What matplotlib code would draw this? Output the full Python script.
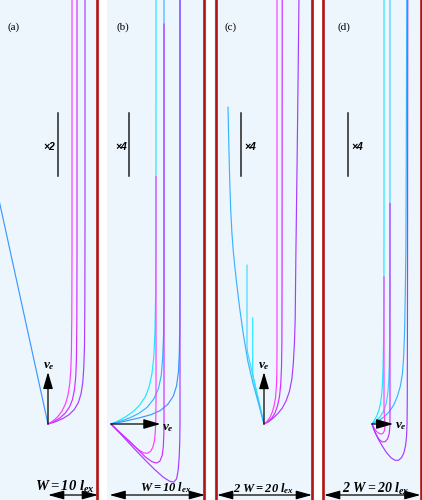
import matplotlib
matplotlib.use('Agg')
import matplotlib.pyplot as plt

plt.rcParams['mathtext.fontset'] = 'custom'
plt.rcParams['mathtext.rm'] = 'Liberation Serif:bold:italic'
plt.rcParams['mathtext.it'] = 'Liberation Serif:bold:italic'
plt.rcParams['mathtext.bf'] = 'Liberation Serif:bold:italic'

cyan = '#22e6ff'
sky = '#38b4ff'
blue = '#3b98ff'
magenta = '#ff3cff'
orchid = '#d22cff'
purple = '#a63cff'
wall_red = '#b01414'
bg = '#eef6fd'

# trajectories in units of l_ex, start point at the origin, y upwards
# (a) W = 10 l_ex
a_blue_x = [0, -10.5]
a_blue_y = [0, 48]
a_mag_x = [0, 1.0, 2.0, 2.9, 3.6, 4.1, 4.45, 4.65, 4.78, 4.86, 4.9, 4.9]
a_mag_y = [0, 0.6, 1.5, 2.7, 4.2, 6.0, 8.3, 11, 15, 22, 35, 90]
a_orc_x = [0, 1.2, 2.4, 3.5, 4.4, 5.0, 5.4, 5.65, 5.8, 5.88, 5.92, 5.92]
a_orc_y = [0, 0.5, 1.2, 2.2, 3.5, 5.0, 7.0, 9.5, 13, 20, 35, 90]
a_pur_x = [0, 1.5, 3.0, 4.3, 5.4, 6.2, 6.75, 7.1, 7.3, 7.45, 7.52, 7.55, 7.55]
a_pur_y = [0, 0.45, 1.1, 1.9, 3.0, 4.4, 6.2, 8.5, 11.5, 16, 25, 40, 90]

# (b) W = 10 l_ex, zoom x4
b_cyan_x = [0, 0.8, 1.6, 2.4, 3.1, 3.7, 4.1, 4.4, 4.6, 4.72, 4.8, 4.83, 4.84]
b_cyan_y = [0, 0.35, 0.8, 1.35, 2.05, 2.95, 4.0, 5.4, 7.2, 9.8, 14, 20, 46]
b_sky_x = [0, 1.0, 2.0, 3.0, 3.9, 4.6, 5.1, 5.4, 5.55, 5.65, 5.7, 5.7]
b_sky_y = [0, 0.3, 0.65, 1.15, 1.8, 2.7, 3.8, 5.2, 7.0, 9.5, 14, 46]
b_blue_x = [0, 1.5, 3.0, 4.3, 5.3, 6.1, 6.7, 7.05, 7.25, 7.35, 7.4, 7.42, 7.42]
b_blue_y = [0, 0.3, 0.65, 1.0, 1.45, 2.1, 3.0, 4.1, 5.6, 7.8, 11, 16, 46]
b_mag_x = [0, 0.8, 1.6, 2.4, 3.0, 3.5, 3.9, 4.25, 4.5, 4.67, 4.76, 4.82, 4.84, 4.84]
b_mag_y = [0, -0.8, -1.55, -2.3, -2.8, -3.1, -3.15, -2.95, -2.5, -1.8, -0.9, 0.5, 3, 26.6]
b_orc_x = [0, 1.0, 2.0, 2.9, 3.7, 4.4, 4.9, 5.25, 5.5, 5.62, 5.68, 5.7, 5.7]
b_orc_y = [0, -0.95, -1.85, -2.75, -3.55, -4.05, -4.2, -4.0, -3.4, -2.5, -1.2, 0.5, 43]
b_pur_x = [0, 1.2, 2.4, 3.6, 4.7, 5.6, 6.3, 6.75, 7.05, 7.22, 7.33, 7.39, 7.42, 7.42]
b_pur_y = [0, -1.25, -2.55, -3.8, -4.9, -5.7, -6.15, -6.25, -5.9, -5.0, -3.6, -2, 0, 46]

# (c) 2W = 20 l_ex
c_blue_x = [0, -1.15, -2.3, -3.35, -4.35, -5.05, -5.6, -6.05, -6.4, -6.7, -6.95, -7.15, -7.3, -7.5]
c_blue_y = [0, 4.3, 8.5, 13.0, 19, 24, 28.5, 32.5, 36, 40, 45, 51, 57, 66]
c_cyan1_x = [0, -3.4, -3.54, -3.54]
c_cyan1_y = [0, 14.8, 16.0, 33.1]
c_cyan2_x = [0, -2.3, -2.35, -2.35]
c_cyan2_y = [0, 10.0, 11.0, 22.1]
c_mag_x = [0, 0.6, 1.2, 1.7, 2.1, 2.4, 2.58, 2.67, 2.71, 2.71]
c_mag_y = [0, 0.5, 1.3, 2.4, 3.8, 5.5, 7.8, 10.5, 15, 90]
c_orc_x = [0, 0.8, 1.6, 2.3, 2.85, 3.25, 3.5, 3.65, 3.73, 3.76, 3.8]
c_orc_y = [0, 0.5, 1.2, 2.3, 3.9, 5.9, 8.5, 12, 17, 30, 90]
c_pur_x = [0, 1.0, 2.0, 2.9, 3.8, 4.6, 5.3, 5.8, 6.1, 6.35, 6.5, 6.65, 6.9, 7.1, 7.3]
c_pur_y = [0, 0.5, 1.3, 2.2, 3.3, 4.8, 6.8, 9.3, 12.5, 17, 22, 36, 55, 72, 90]

# (d) 2W = 20 l_ex, zoom x4
d_cyan_x = [0, 0.5, 1.0, 1.4, 1.75, 2.0, 2.15, 2.25, 2.35, 2.42, 2.45, 2.45]
d_cyan_y = [0, 0.8, 1.7, 2.8, 4.3, 6.2, 8.5, 11.5, 16, 25, 40, 90]
d_sky_x = [0, 0.8, 1.6, 2.3, 2.85, 3.2, 3.4, 3.52, 3.6, 3.65, 3.67, 3.67]
d_sky_y = [0, 0.6, 1.4, 2.5, 4.0, 6.0, 8.5, 11.5, 16, 25, 40, 90]
d_blue_x = [0, 1.2, 2.4, 3.5, 4.4, 5.2, 5.8, 6.2, 6.45, 6.65, 6.8, 6.92, 7.0, 7.1]
d_blue_y = [0, 0.6, 1.4, 2.5, 3.8, 5.7, 7.8, 10.2, 13.5, 19, 27, 36, 55, 90]
d_mag_x = [0, 0.4, 0.9, 1.4, 1.9, 2.3, 2.55, 2.65, 2.6, 2.5, 2.45, 2.45]
d_mag_y = [0, -0.8, -1.5, -1.9, -2.05, -1.85, -1.3, -0.5, 0.6, 2.0, 4, 30]
d_orc_x = [0, 0.4, 0.9, 1.5, 2.1, 2.7, 3.2, 3.5, 3.64, 3.67, 3.67]
d_orc_y = [0, -1.2, -2.3, -3.2, -3.65, -3.6, -3.0, -2.0, -0.7, 1, 45]
d_pur_x = [0, 0.6, 1.3, 2.1, 3.0, 3.9, 4.7, 5.4, 6.0, 6.5, 6.85, 7.05, 7.15, 7.2, 7.25, 7.3]
d_pur_y = [0, -1.6, -3.1, -4.5, -5.9, -6.9, -7.4, -7.4, -6.9, -5.9, -4.4, -2.5, 0, 5, 30, 90]

# panel geometry: pixel scale, start point (px), axes extent (px), walls, ve arrow
panels = {
    'a': dict(s=4.9, x0=48, left=0, right=99.5, walls=[10], ve=(0, 10.6)),
    'b': dict(s=9.3, x0=111, left=107, right=206.5, walls=[10], ve=(5.3, 0)),
    'c': dict(s=4.8, x0=264, left=214.5, right=313.5, walls=[-10, 10], ve=(0, 10.8)),
    'd': dict(s=4.9, x0=372, left=321.5, right=422, walls=[-10, 10], ve=(4.3, 0)),
}
y0 = 424

curves = {
    'a': [(a_blue_x, a_blue_y, blue), (a_pur_x, a_pur_y, purple),
          (a_orc_x, a_orc_y, orchid), (a_mag_x, a_mag_y, magenta)],
    'b': [(b_cyan_x, b_cyan_y, cyan), (b_sky_x, b_sky_y, sky), (b_blue_x, b_blue_y, blue),
          (b_mag_x, b_mag_y, magenta), (b_orc_x, b_orc_y, orchid), (b_pur_x, b_pur_y, purple)],
    'c': [(c_cyan1_x, c_cyan1_y, '#3fd8ff'), (c_cyan2_x, c_cyan2_y, cyan), (c_blue_x, c_blue_y, sky),
          (c_pur_x, c_pur_y, purple), (c_orc_x, c_orc_y, orchid), (c_mag_x, c_mag_y, magenta)],
    'd': [(d_cyan_x, d_cyan_y, cyan), (d_sky_x, d_sky_y, '#40d0ff'), (d_blue_x, d_blue_y, sky),
          (d_mag_x, d_mag_y, magenta), (d_orc_x, d_orc_y, orchid), (d_pur_x, d_pur_y, purple)],
}

fig = plt.figure(figsize=(4.22, 5.0), dpi=100)

for key, p in panels.items():
    s = p['s']
    ax = fig.add_axes([p['left'] / 422, 0, (p['right'] - p['left']) / 422, 1])
    ax.set_facecolor(bg)
    ax.set_xlim((p['left'] - p['x0']) / s, (p['right'] - p['x0']) / s)
    ax.set_ylim((y0 - 500) / s, y0 / s)
    ax.set_xticks([])
    ax.set_yticks([])
    for sp in ax.spines.values():
        sp.set_visible(False)

    for xs, ys, col in curves[key]:
        ax.plot(xs, ys, color=col, lw=0.85, solid_joinstyle='round')

    for w in p['walls']:
        ax.axvline(w, color=wall_red, lw=1.9)

    # velocity arrow
    ax.annotate('', xy=p['ve'], xytext=(0, 0),
                arrowprops=dict(arrowstyle='-|>,head_length=0.85,head_width=0.25',
                                color='k', lw=0.9, mutation_scale=12,
                                shrinkA=0, shrinkB=0))

    # width arrow at the bottom
    yb = (y0 - 495) / s
    xa = 0 if key == 'a' else (p['left'] + 2.5 - p['x0']) / s
    xb = (p['right'] - 1.5 - p['x0']) / s
    ax.annotate('', xy=(xb, yb), xytext=(xa, yb),
                arrowprops=dict(arrowstyle='<|-|>,head_length=0.8,head_width=0.22',
                                color='k', lw=0.9, mutation_scale=12,
                                shrinkA=0, shrinkB=0))

    # scale bar
    xsb = {'a': 10, 'b': 18, 'c': -23, 'd': -24}[key] / s
    ax.plot([xsb, xsb], [(y0 - 113) / s, (y0 - 176) / s], color='#222222', lw=1.1)


def px(x, y):
    return x / 422, 1 - y / 500


for lab, (x, y) in zip(['(a)', '(b)', '(c)', '(d)'], [(14, 27), (123, 27), (231, 27), (344, 27)]):
    fig.text(*px(x, y), lab, family='Liberation Serif', fontsize=8, ha='center', va='center')

for lab, (x, y), ha in zip(['×2', '×4', '×4', '×4'],
                           [(55, 147), (127, 147), (244, 147), (351, 147)],
                           ['right', 'right', 'left', 'left']):
    fig.text(*px(x, y), lab, family='Liberation Sans', fontsize=7.5, fontweight='bold',
             fontstyle='italic', ha=ha, va='center')

for (x, y) in [(49, 366), (168, 428), (264, 366), (401, 426)]:
    fig.text(*px(x, y), r'$v_e$', fontsize=9.5, ha='center', va='center')

fig.text(*px(65, 487), r'$W = 10\ l_{ex}$', fontsize=10.5, ha='center', va='center')
fig.text(*px(166, 488), r'$W = 10\ l_{ex}$', fontsize=9, ha='center', va='center')
fig.text(*px(264, 489), r'$2\ W = 20\ l_{ex}$', fontsize=9, ha='center', va='center')
fig.text(*px(376, 489), r'$2\ W = 20\ l_{ex}$', fontsize=10, ha='center', va='center')

fig.savefig('out.png', dpi=100)
